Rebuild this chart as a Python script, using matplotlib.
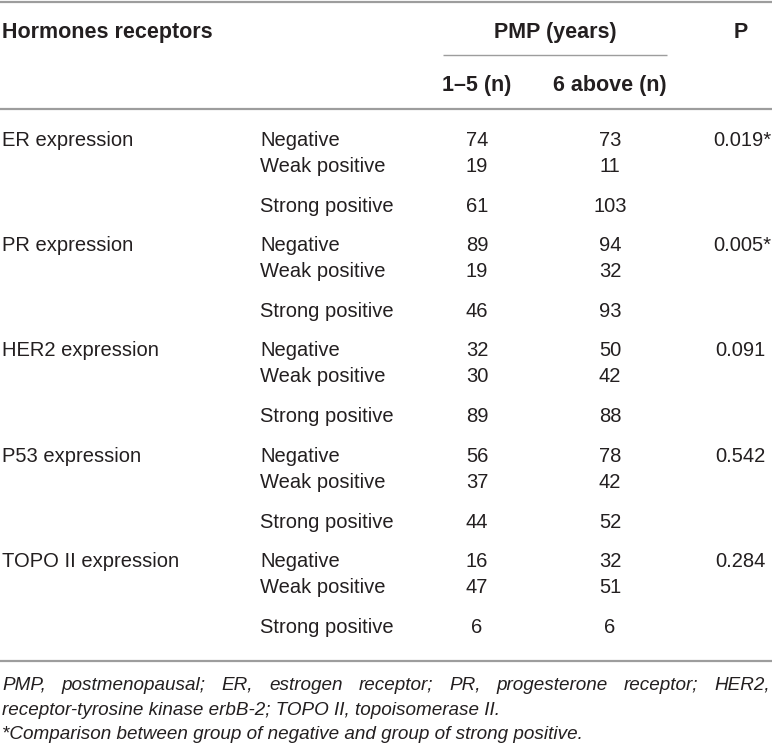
import matplotlib
matplotlib.use("Agg")
import matplotlib.pyplot as plt

plt.rcParams['font.family'] = ['Liberation Sans', 'DejaVu Sans']

# ---- data ----
receptors = ["ER expression", "PR expression", "HER2 expression", "P53 expression", "TOPO II expression"]
levels = ["Negative", "Weak positive", "Strong positive"]
pmp_1_5 = [[74, 19, 61], [89, 19, 46], [32, 30, 89], [56, 37, 44], [16, 47, 6]]
pmp_6_above = [[73, 11, 103], [94, 32, 93], [50, 42, 88], [78, 42, 52], [32, 51, 6]]
p_values = ["0.019*", "0.005*", "0.091", "0.542", "0.284"]
header_left = "Hormones receptors"
header_group = "PMP (years)"
header_p = "P"
sub_headers = ["1\u20135 (n)", "6 above (n)"]
footnote_lines = [
    "PMP, postmenopausal; ER, estrogen receptor; PR, progesterone receptor; HER2,",
    "receptor-tyrosine kinase erbB-2; TOPO II, topoisomerase II.",
    "*Comparison between group of negative and group of strong positive.",
]

W, H = 772, 753
fig = plt.figure(figsize=(W / 100, H / 100), dpi=100)
ax = fig.add_axes([0, 0, 1, 1])
ax.set_xlim(0, W)
ax.set_ylim(H, 0)
ax.axis("off")

txt = "#231f20"
rule = "#9d9d9d"
body_fs = 14.5
head_fs = 15.5
foot_fs = 13.6

# rules
ax.plot([0, W], [1.5, 1.5], color=rule, lw=1.6, solid_capstyle="butt")
ax.plot([443, 667], [55, 55], color=rule, lw=1.0, solid_capstyle="butt")
ax.plot([0, W], [109, 109], color=rule, lw=1.6, solid_capstyle="butt")
ax.plot([0, W], [661, 661], color=rule, lw=1.6, solid_capstyle="butt")

# header
ax.text(2, 38, header_left, fontsize=head_fs, fontweight="bold", color=txt, ha="left", va="baseline")
ax.text(555, 38, header_group, fontsize=head_fs, fontweight="bold", color=txt, ha="center", va="baseline")
ax.text(741, 38, header_p, fontsize=head_fs, fontweight="bold", color=txt, ha="center", va="baseline")
col_x = [477, 610]
for cx, s in zip(col_x, sub_headers):
    ax.text(cx, 91, s, fontsize=head_fs, fontweight="bold", color=txt, ha="center", va="baseline")

# body
group_y = [139, 244, 349, 455, 560]
offsets = [0, 26, 66]
for g, name in enumerate(receptors):
    y0 = group_y[g]
    ax.text(2, y0 + 7, name, fontsize=body_fs, color=txt, ha="left", va="baseline")
    for k, lev in enumerate(levels):
        y = y0 + offsets[k] + 7
        ax.text(260, y, lev, fontsize=body_fs, color=txt, ha="left", va="baseline")
        ax.text(col_x[0], y, str(pmp_1_5[g][k]), fontsize=body_fs, color=txt, ha="center", va="baseline")
        ax.text(col_x[1], y, str(pmp_6_above[g][k]), fontsize=body_fs, color=txt, ha="center", va="baseline")
    pv = p_values[g]
    px = 771 if pv.endswith("*") else 766
    ax.text(px, y0 + 7, pv, fontsize=body_fs, color=txt, ha="right", va="baseline")

# footnotes
foot_base = [690, 715, 739]
fig.canvas.draw()
renderer = fig.canvas.get_renderer()
inv = ax.transData.inverted()

def text_width(s):
    t = ax.text(0, 0, s, fontsize=foot_fs, style="italic")
    bb = t.get_window_extent(renderer=renderer)
    t.remove()
    p0 = inv.transform((bb.x0, bb.y0))
    p1 = inv.transform((bb.x1, bb.y1))
    return p1[0] - p0[0]

# first line justified across full width
words = footnote_lines[0].split(" ")
widths = [text_width(w) for w in words]
left, right = 2, 770
gap = (right - left - sum(widths)) / (len(words) - 1)
x = left
for w, wd in zip(words, widths):
    ax.text(x, foot_base[0], w, fontsize=foot_fs, style="italic", color=txt, ha="left", va="baseline")
    x += wd + gap

for line, yb in zip(footnote_lines[1:], foot_base[1:]):
    ax.text(2, yb, line, fontsize=foot_fs, style="italic", color=txt, ha="left", va="baseline")

fig.savefig("out.png", dpi=100)
